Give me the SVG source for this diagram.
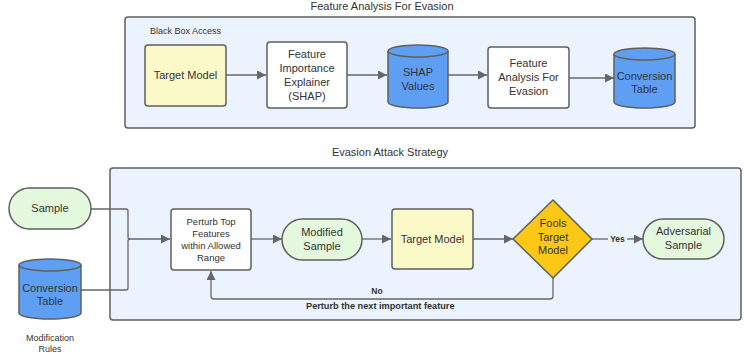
<svg xmlns="http://www.w3.org/2000/svg" width="745" height="360" viewBox="0 0 745 360">
<style>
text{font-family:"Liberation Sans",Arial,sans-serif;fill:#333;}
.t{font-size:11px;text-anchor:middle;}
.s{font-size:9px;}
.lbl{font-size:8.5px;font-weight:bold;}
.cont{fill:#ebf3fe;stroke:#5f5f5f;stroke-width:1.5;}
.box{fill:#ffffff;stroke:#5f5f5f;stroke-width:1.5;}
.yel{fill:#fcf9c8;stroke:#5f5f5f;stroke-width:1.5;}
.grn{fill:#e3f8dd;stroke:#5f5f5f;stroke-width:1.5;}
.cyl{fill:#5e9ff3;stroke:#5f5f5f;stroke-width:1.5;}
.dia{fill:#fbc816;stroke:#5f5f5f;stroke-width:1.5;}
.c{fill:none;stroke:#666;stroke-width:1.3;}
.rim{fill:none;stroke:#5f5f5f;stroke-width:1.5;}
</style>
<defs>
<marker id="ah" viewBox="0 0 10 10" refX="10" refY="5" markerWidth="9" markerHeight="9" markerUnits="userSpaceOnUse" orient="auto">
<path d="M0,0 L10,5 L0,10 z" fill="#666"/>
</marker>
</defs>

<g id="container-top">
<rect class="cont" x="125" y="17" width="570" height="111" rx="3"/>
<text class="t" x="382" y="10">Feature Analysis For Evasion</text>
<text class="s" x="150" y="34">Black Box Access</text>
</g>
<g id="container-bottom">
<rect class="cont" x="110" y="168" width="631" height="152" rx="3"/>
<text class="t" x="390" y="156">Evasion Attack Strategy</text>
</g>

<g id="connectors">
<line class="c" x1="226" y1="75" x2="266" y2="75" marker-end="url(#ah)"/>
<line class="c" x1="347" y1="75" x2="387" y2="75" marker-end="url(#ah)"/>
<line class="c" x1="448" y1="75" x2="487" y2="75" marker-end="url(#ah)"/>
<line class="c" x1="569" y1="78" x2="614" y2="78" marker-end="url(#ah)"/>
<path class="c" d="M91,209 H126 Q128,209 128,211 V237 Q128,239 130,239 H170" marker-end="url(#ah)"/>
<path class="c" d="M81,290 H126 Q128,290 128,288 V241 Q128,239 130,239"/>
<line class="c" x1="251" y1="239" x2="282" y2="239" marker-end="url(#ah)"/>
<line class="c" x1="362" y1="239" x2="391" y2="239" marker-end="url(#ah)"/>
<line class="c" x1="473" y1="239" x2="513" y2="239" marker-end="url(#ah)"/>
<line class="c" x1="592" y1="239" x2="608" y2="239"/>
<line class="c" x1="627" y1="239" x2="643" y2="239" marker-end="url(#ah)"/>
<text class="lbl" x="617.5" y="241.5" text-anchor="middle">Yes</text>
<path class="c" d="M553,278 V296 Q553,299 550,299 H214 Q211,299 211,296 V271" marker-end="url(#ah)"/>
<text class="lbl" x="377" y="294" text-anchor="middle">No</text>
<text class="lbl" x="306" y="309" style="font-size:9.2px">Perturb the next important feature</text>
</g>

<g id="target-model-top">
<rect class="yel" x="145" y="45" width="81" height="61" rx="3"/>
<text class="t" x="185.5" y="79">Target Model</text>
</g>
<g id="feature-importance-explainer">
<rect class="box" x="267" y="42" width="80" height="66" rx="3"/>
<text class="t" x="307" y="58">Feature</text>
<text class="t" x="307" y="72">Importance</text>
<text class="t" x="307" y="86">Explainer</text>
<text class="t" x="307" y="100">(SHAP)</text>
</g>
<g id="shap-values">
<path class="cyl" d="M388,51 V102 A30,6 0 0 0 448,102 V51 A30,6 0 0 0 388,51 Z"/>
<path class="rim" d="M388,51 A30,6 0 0 0 448,51"/>
<text class="t" x="418" y="76">SHAP</text>
<text class="t" x="418" y="90">Values</text>
</g>
<g id="feature-analysis">
<rect class="box" x="488" y="47" width="81" height="61" rx="3"/>
<text class="t" x="528.5" y="67">Feature</text>
<text class="t" x="528.5" y="81">Analysis For</text>
<text class="t" x="528.5" y="95">Evasion</text>
</g>
<g id="conversion-table-top">
<path class="cyl" d="M614,54 V102 A30.5,6 0 0 0 675,102 V54 A30.5,6 0 0 0 614,54 Z"/>
<path class="rim" d="M614,54 A30.5,6 0 0 0 675,54"/>
<text class="t" x="644.5" y="80">Conversion</text>
<text class="t" x="644.5" y="93">Table</text>
</g>

<g id="sample">
<rect class="grn" x="9" y="188" width="82" height="41" rx="20.5"/>
<text class="t" x="50" y="212">Sample</text>
</g>
<g id="conversion-table-bottom">
<path class="cyl" d="M19,265 V313 A31,6 0 0 0 81,313 V265 A31,6 0 0 0 19,265 Z"/>
<path class="rim" d="M19,265 A31,6 0 0 0 81,265"/>
<text class="t" x="50" y="292">Conversion</text>
<text class="t" x="50" y="305">Table</text>
<text class="s" x="50" y="341" text-anchor="middle">Modification</text>
<text class="s" x="50" y="352" text-anchor="middle">Rules</text>
</g>
<g id="perturb">
<rect class="box" x="171" y="209" width="80" height="61" rx="3"/>
<text class="t" x="211" y="225" style="font-size:9.5px">Perturb Top</text>
<text class="t" x="211" y="237" style="font-size:9.5px">Features</text>
<text class="t" x="211" y="249" style="font-size:9.5px">within Allowed</text>
<text class="t" x="211" y="261" style="font-size:9.5px">Range</text>
</g>
<g id="modified-sample">
<rect class="grn" x="282" y="219" width="80" height="41" rx="20.5"/>
<text class="t" x="322" y="236">Modified</text>
<text class="t" x="322" y="250">Sample</text>
</g>
<g id="target-model-bottom">
<rect class="yel" x="392" y="209" width="81" height="60" rx="3"/>
<text class="t" x="432.5" y="243">Target Model</text>
</g>
<g id="fools-target-model">
<path class="dia" d="M553,200 L592,239 L553,278 L513,239 Z"/>
<text class="t" x="553" y="227">Fools</text>
<text class="t" x="553" y="241">Target</text>
<text class="t" x="553" y="254">Model</text>
</g>
<g id="adversarial-sample">
<rect class="grn" x="643" y="219" width="81" height="40" rx="20"/>
<text class="t" x="683.5" y="235">Adversarial</text>
<text class="t" x="683.5" y="249">Sample</text>
</g>
</svg>
